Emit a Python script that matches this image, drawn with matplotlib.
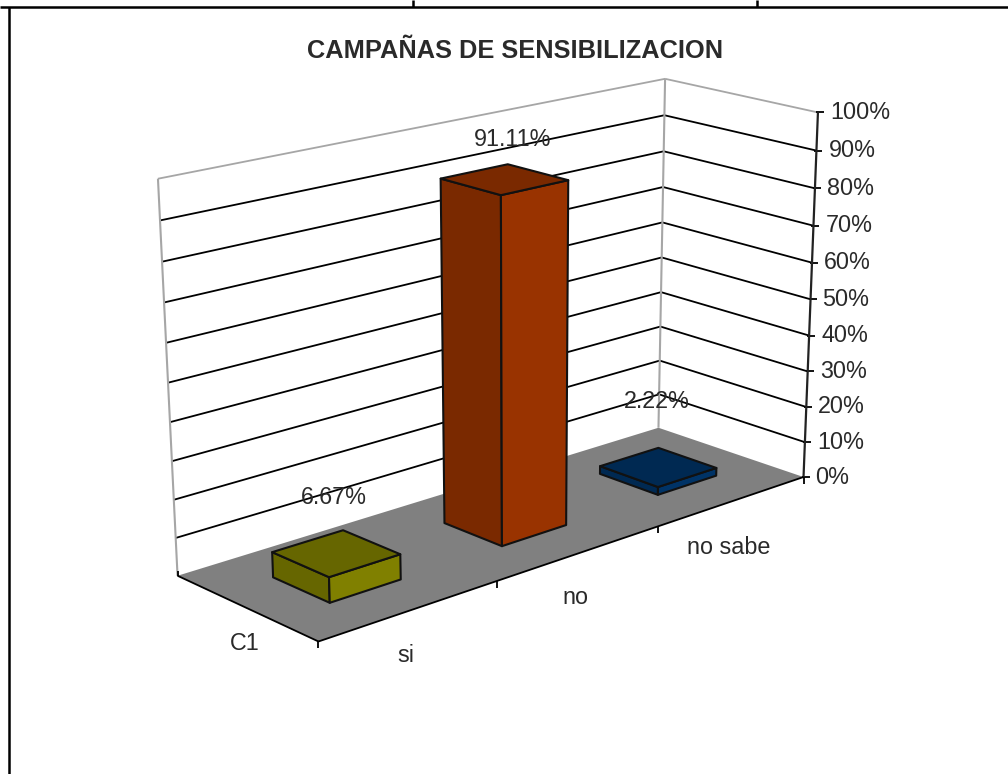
import numpy as np
import matplotlib
matplotlib.use('Agg')
import matplotlib.pyplot as plt

plt.rcParams['font.family'] = ['Liberation Sans', 'DejaVu Sans']

titulo = 'CAMPAÑAS DE SENSIBILIZACION'
categorias = ['si', 'no', 'no sabe']
valores = [6.67, 91.11, 2.22]
etiquetas = ['6.67%', '91.11%', '2.22%']
ticks_y = [0, 10, 20, 30, 40, 50, 60, 70, 80, 90, 100]
serie = 'C1'

cara_der = ['#808000', '#993300', '#003366']
cara_izq = ['#666600', '#7a2900', '#002952']
cara_sup = ['#666600', '#7a2900', '#002952']

# camara: esquinas de la caja (u, v, w) -> pixel, se ajusta una proyeccion
esquinas = [((0, 0, 0), (319, 642)), ((1, 0, 0), (803, 477)), ((1, 0, 1), (818, 112)),
            ((0, 1, 0), (177, 575)), ((0, 1, 1), (158, 179)),
            ((1, 1, 0), (659, 428)), ((1, 1, 1), (665, 79))]
A, b = [], []
for (u, v, w), (px, py) in esquinas:
    A.append([u, v, w, 1, 0, 0, 0, 0, -px*u, -px*v, -px*w])
    A.append([0, 0, 0, 0, u, v, w, 1, -py*u, -py*v, -py*w])
    b += [px, py]
P = np.append(np.linalg.lstsq(np.array(A, float), np.array(b, float), rcond=None)[0], 1).reshape(3, 4)


def pr(u, v, w):
    x, y, s = P @ np.array([u, v, w, 1.0])
    return x / s, y / s


fig = plt.figure(figsize=(10.08, 7.74), dpi=100)
ax = fig.add_axes([0, 0, 1, 1])
ax.set_xlim(0, 1008)
ax.set_ylim(774, 0)
ax.axis('off')


def linea(a, c, color='black', lw=1.3):
    ax.plot([a[0], c[0]], [a[1], c[1]], color=color, lw=lw, solid_capstyle='butt', zorder=3)


def cara(puntos, color):
    ax.fill([p[0] for p in puntos], [p[1] for p in puntos], facecolor=color,
            edgecolor='#111111', lw=1.5, joinstyle='round', zorder=5)


# marco de la celda
linea((0, 7), (1008, 7), lw=1.8)
linea((9, 7), (9, 774), lw=1.8)
linea((413, 0), (413, 7), lw=1.8)
linea((757, 0), (757, 7), lw=1.8)

# piso
ax.fill(*zip(pr(0, 0, 0), pr(1, 0, 0), pr(1, 1, 0), pr(0, 1, 0)), color='#808080', lw=0, zorder=2)

# rejilla de las paredes
for t in ticks_y:
    w = t / 100
    col = '#a6a6a6' if t == 100 else 'black'
    if t > 0:
        linea(pr(0, 1, w), pr(1, 1, w), col)
        linea(pr(1, 1, w), pr(1, 0, w), col)
    x, y = pr(1, 0, w)
    linea((x - 2, y), (x + 6, y))
    ax.text(x + 12, y, f'{t}%', fontsize=16.8, color='#2a2a2a', va='center', ha='left', zorder=6)
linea(pr(0, 1, 0), pr(0, 1, 1), '#a6a6a6', 1.5)
linea(pr(1, 1, 0), pr(1, 1, 1), '#a6a6a6', 1.5)
linea(pr(1, 0, 0), pr(1, 0, 1), '#222222', 1.6)

# bordes y marcas del piso
linea(pr(0, 0, 0), pr(1, 0, 0))
linea(pr(0, 0, 0), pr(0, 1, 0))
for i in range(4):
    x, y = pr(i / 3, 0, 0)
    linea((x, y), (x, y + 7))
x, y = pr(0, 1, 0)
linea((x, y), (x, y - 5))

# barras
ancho = 0.4
fondo = 0.4
for i, val in enumerate(valores):
    u0 = (i + 0.5 - ancho / 2) / 3
    u1 = (i + 0.5 + ancho / 2) / 3
    v0 = 0.5 - fondo / 2
    v1 = 0.5 + fondo / 2
    w = val / 100
    cara([pr(u0, v0, 0), pr(u0, v1, 0), pr(u0, v1, w), pr(u0, v0, w)], cara_izq[i])
    cara([pr(u0, v0, 0), pr(u1, v0, 0), pr(u1, v0, w), pr(u0, v0, w)], cara_der[i])
    cara([pr(u0, v0, w), pr(u1, v0, w), pr(u1, v1, w), pr(u0, v1, w)], cara_sup[i])

# textos
pos_etiquetas = [(334, 497), (513, 139), (657, 402)]
pos_categorias = [(406, 656), (575, 598), (729, 547)]
for texto, (x, y) in zip(etiquetas, pos_etiquetas):
    ax.text(x, y, texto, fontsize=16.8, color='#2a2a2a', ha='center', va='center', zorder=6)
for texto, (x, y) in zip(categorias, pos_categorias):
    ax.text(x, y, texto, fontsize=16.8, color='#2a2a2a', ha='center', va='center', zorder=6)
ax.text(245, 644, serie, fontsize=16.8, color='#2a2a2a', ha='center', va='center', zorder=6)
ax.text(515, 51, titulo, fontsize=18.3, fontweight='bold', color='#2a2a2a', ha='center', va='center', zorder=6)

fig.savefig('out.png', dpi=100)
